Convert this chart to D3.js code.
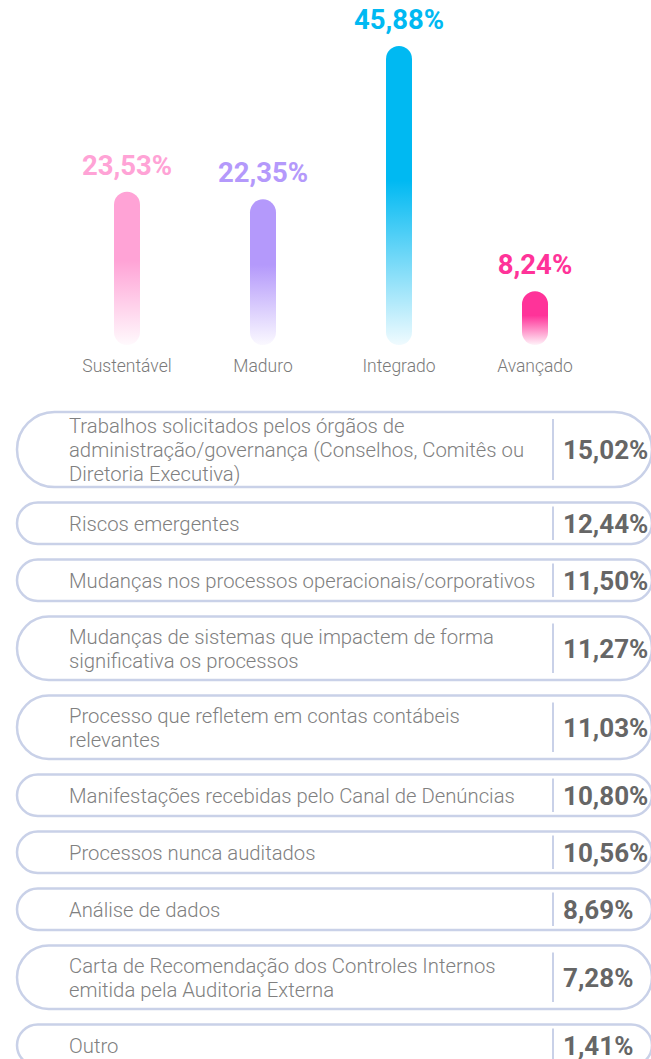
<!DOCTYPE html>
<html lang="pt">
<head>
<meta charset="utf-8">
<title>Maturidade e critérios</title>
<script src="https://cdnjs.cloudflare.com/ajax/libs/d3/7.8.5/d3.min.js"></script>
<style>
  body { margin: 0; background: #fff; }
  svg { display: block; font-family: Roboto, "Noto Sans", sans-serif; }
</style>
</head>
<body>
<script>
// maturity levels (top chart)
var levels = ["Sustentável", "Maduro", "Integrado", "Avançado"];
var levelValues = [23.53, 22.35, 45.88, 8.24];
var levelColors = ["#ffa3d6", "#b499fb", "#00b9f2", "#ff3399"];

// criteria list (bottom)
var criteria = [
  "Trabalhos solicitados pelos órgãos de\nadministração/governança (Conselhos, Comitês ou\nDiretoria Executiva)",
  "Riscos emergentes",
  "Mudanças nos processos operacionais/corporativos",
  "Mudanças de sistemas que impactem de forma\nsignificativa os processos",
  "Processo que refletem em contas contábeis\nrelevantes",
  "Manifestações recebidas pelo Canal de Denúncias",
  "Processos nunca auditados",
  "Análise de dados",
  "Carta de Recomendação dos Controles Internos\nemitida pela Auditoria Externa",
  "Outro"
];
var criteriaValues = [15.02, 12.44, 11.50, 11.27, 11.03, 10.80, 10.56, 8.69, 7.28, 1.41];

var W = 651, H = 1059;
var fmt = function(v) { return v.toFixed(2).replace(".", ",") + "%"; };

var svg = d3.select("body").append("svg")
  .attr("width", W)
  .attr("height", H);

// ---- top: pill bars ----
var x = d3.scaleBand().domain(levels).range([59, 603]);
var y = d3.scaleLinear().domain([0, 45.88]).range([345, 46]);
var barW = 26;

var defs = svg.append("defs");
levels.forEach(function(l, i) {
  var g = defs.append("linearGradient")
    .attr("id", "grad" + i)
    .attr("x1", 0).attr("y1", 0).attr("x2", 0).attr("y2", 1);
  g.append("stop").attr("offset", 0).attr("stop-color", levelColors[i]).attr("stop-opacity", 1);
  g.append("stop").attr("offset", 0.45).attr("stop-color", levelColors[i]).attr("stop-opacity", 1);
  g.append("stop").attr("offset", 1).attr("stop-color", levelColors[i]).attr("stop-opacity", 0.06);
});

var bars = svg.append("g").selectAll("g")
  .data(levels)
  .enter().append("g");

bars.append("rect")
  .attr("x", function(d) { return x(d) + x.bandwidth() / 2 - barW / 2; })
  .attr("y", function(d, i) { return y(levelValues[i]); })
  .attr("width", barW)
  .attr("height", function(d, i) { return y(0) - y(levelValues[i]); })
  .attr("rx", barW / 2)
  .attr("fill", function(d, i) { return "url(#grad" + i + ")"; });

bars.append("text")
  .attr("x", function(d) { return x(d) + x.bandwidth() / 2; })
  .attr("y", function(d, i) { return y(levelValues[i]) - 17; })
  .attr("text-anchor", "middle")
  .attr("font-size", 27.5)
  .attr("font-weight", "bold")
  .attr("fill", function(d, i) { return levelColors[i]; })
  .text(function(d, i) { return fmt(levelValues[i]); });

bars.append("text")
  .attr("x", function(d) { return x(d) + x.bandwidth() / 2; })
  .attr("y", 372)
  .attr("text-anchor", "middle")
  .attr("font-size", 17.5)
  .attr("font-weight", 300)
  .attr("fill", "#7a7a7a")
  .text(function(d) { return d; });

// ---- bottom: rounded boxes ----
var lineH = 24;
var heightFor = { 1: 41.5, 2: 63.5, 3: 75 };
var gap = 15.5;
var top0 = 412;
var boxX0 = 17, boxX1 = 652, divX = 553;

var rows = [];
var cy = top0;
criteria.forEach(function(c, i) {
  var lines = c.split("\n");
  var h = heightFor[lines.length];
  rows.push({ lines: lines, value: criteriaValues[i], top: cy, h: h });
  cy += h + gap;
});

var row = svg.append("g").selectAll("g")
  .data(rows)
  .enter().append("g")
  .attr("transform", function(d) { return "translate(0," + d.top + ")"; });

row.append("rect")
  .attr("x", boxX0)
  .attr("y", 0)
  .attr("width", boxX1 - boxX0)
  .attr("height", function(d) { return d.h; })
  .attr("rx", function(d) { return d.h / 2; })
  .attr("ry", function(d) { return d.h / 2; })
  .attr("fill", "#fff")
  .attr("stroke", "#c9d1e8")
  .attr("stroke-width", 2.5);

row.append("line")
  .attr("x1", divX).attr("x2", divX)
  .attr("y1", function(d) { return d.lines.length > 1 ? 7 : 4; })
  .attr("y2", function(d) { return d.h - (d.lines.length > 1 ? 7 : 4); })
  .attr("stroke", "#c9d1e8")
  .attr("stroke-width", 2);

row.append("text")
  .attr("font-size", 20.3)
  .attr("font-weight", 300)
  .attr("fill", "#808080")
  .each(function(d) {
    var t = d3.select(this);
    var n = d.lines.length;
    d.lines.forEach(function(l, k) {
      t.append("tspan")
        .attr("x", 69)
        .attr("y", d.h / 2 + (k - (n - 1) / 2) * lineH)
        .attr("dy", "0.36em")
        .text(l);
    });
  });

row.append("text")
  .attr("x", 563)
  .attr("y", function(d) { return d.h / 2; })
  .attr("dy", "0.36em")
  .attr("font-size", 26)
  .attr("font-weight", "bold")
  .attr("fill", "#666")
  .text(function(d) { return fmt(d.value); });
</script>
</body>
</html>
